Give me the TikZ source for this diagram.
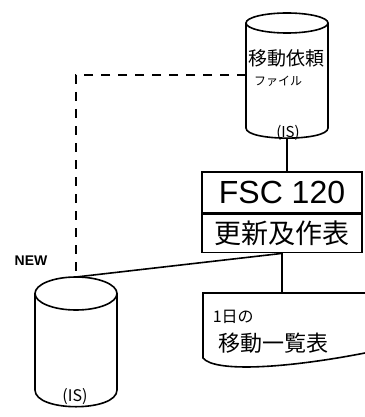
\documentclass[tikz,border=0pt]{standalone}
\usepackage{fontspec}
\newfontfamily\jp{Noto Sans CJK JP}
\setmainfont{Liberation Sans}
\usepackage{tikz}

% 磁気ディスク（円筒）: 名前, 中心x, 上端y, 側線の下端y, 上楕円の半径y
\newcommand\drum[5]{%
  \draw (#2,#3+#5) ellipse [x radius=41, y radius=#5];
  \draw (#2-41,#3+#5) -- (#2-41,#4) .. controls (#2-41,#4+1.35*#5) and (#2+41,#4+1.35*#5) .. (#2+41,#4) -- (#2+41,#3+#5);
  \coordinate (#1-top) at (#2,#3);
  \coordinate (#1-bot) at (#2,#4+#5);
  \coordinate (#1-west) at (#2-41,75);
}

\begin{document}
\begin{tikzpicture}[x=1pt,y=-1pt,line width=1.6pt,inner sep=0pt]
  \useasboundingbox (0,0) rectangle (364,417);
  % 移動依頼ファイル
  \drum{mf}{287}{13}{128}{10}
  \node (mf-t1) at (286,58) {\jp\fontsize{19}{19}\selectfont 移動依頼};
  \node (mf-t2) at (278,81) {\jp\fontsize{12}{12}\selectfont ファイル};
  \node (mf-is) at (288,133) {\jp\fontsize{15}{15}\selectfont (IS)};
  % 処理 FSC 120
  \node[draw,minimum width=160pt,minimum height=41pt] (fsc) at (282,192.5)
    {\fontsize{32}{32}\selectfont FSC 120};
  \node[draw,minimum width=160pt,minimum height=38pt,anchor=north] (upd) at (fsc.south)
    {\jp\fontsize{27}{27}\selectfont 更新及作表};
  % 帳票
  \draw (370,293) -- (203,293) -- (203,358)
    .. controls (215,373) and (290,368) .. (370,352);
  \coordinate (lst-top) at (283,293);
  \node[anchor=west] (lst-t1) at (212,317) {\jp\fontsize{16}{16}\selectfont 1日の};
  \node[anchor=west] (lst-t2) at (218,343) {\jp\fontsize{22}{22}\selectfont 移動一覧表};
  % NEW
  \drum{nw}{76}{277}{390}{16.5}
  \node (nw-lb) at (31,261) {\fontsize{14}{14}\selectfont\bfseries NEW};
  \node (nw-is) at (75,397) {\jp\fontsize{16}{16}\selectfont (IS)};
  % 接続
  \draw (mf-bot) -- (mf-bot |- fsc.north);
  \draw (upd.south) -- (upd.south |- lst-top);
  \draw (nw-top) -- (upd.south);
  \draw[dash pattern=on 9pt off 8pt] (mf-west) -| (nw-top);
\end{tikzpicture}
\end{document}
